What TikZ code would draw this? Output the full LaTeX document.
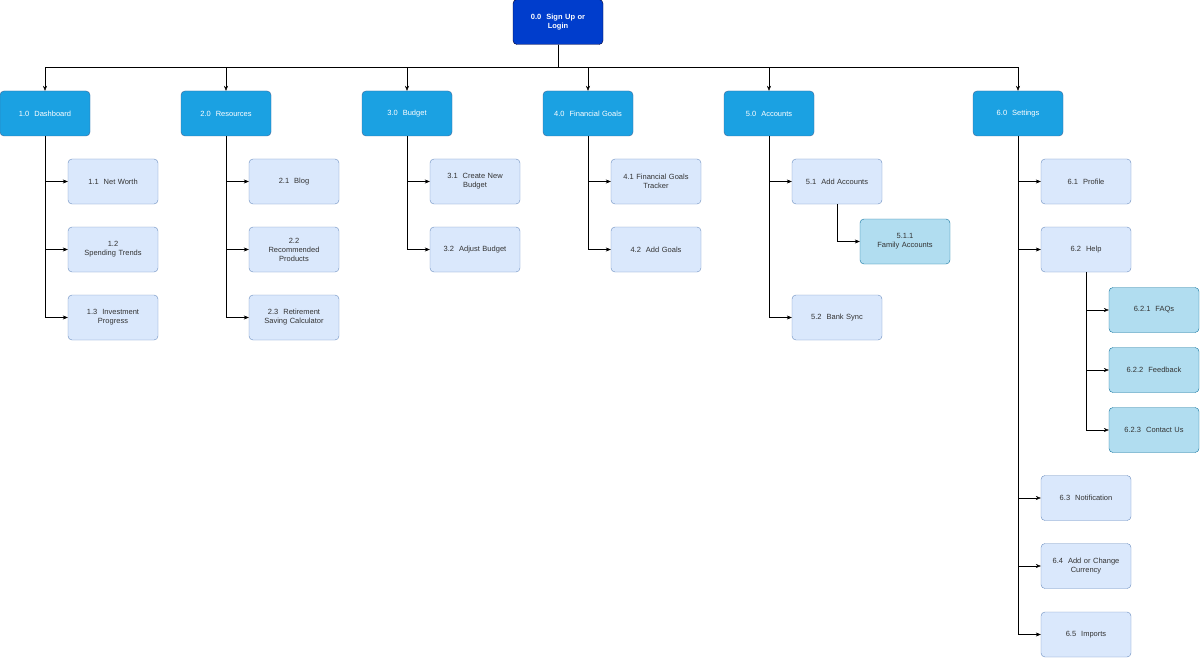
\documentclass[tikz,border=0pt]{standalone}
\usepackage{fontspec}
\setmainfont{Liberation Sans}
\usetikzlibrary{arrows.meta}
\begin{document}
\begin{tikzpicture}[x=1pt,y=-1pt,
    box/.style={rounded corners=4pt,minimum width=90pt,minimum height=45pt,text width=84pt,align=center,
        font=\fontsize{7.5}{9}\selectfont,inner sep=1pt},
    top/.style={box,draw=black!80!blue,fill=blue!70!cyan!80!black,text=white,font=\fontsize{7.5}{9}\selectfont\bfseries},
    sec/.style={box,draw=cyan!50!blue!70!black,fill={rgb,255:red,27;green,161;blue,226},text=white},
    sub/.style={box,draw={rgb,255:red,108;green,142;blue,191},fill={rgb,255:red,218;green,232;blue,252},text=black!80},
    subsub/.style={box,draw={rgb,255:red,16;green,115;blue,158},fill={rgb,255:red,177;green,221;blue,240},text=black!80},
    arr/.style={-{Stealth[length=5pt,width=4pt]},black}]
    \useasboundingbox (0,0) rectangle (1200,658);

    \node[top] (root) at (558,22) {0.0\ \ Sign Up or\\Login};

    \node[sec] (dash) at (45,113.5) {1.0\ \ Dashboard};
    \node[sec] (res) at (226,113.5) {2.0\ \ Resources};
    \node[sec] (bud) at (407,113.5) {3.0\ \ Budget};
    \node[sec] (goal) at (588,113.5) {4.0\ \ Financial Goals};
    \node[sec] (acc) at (769,113.5) {5.0\ \ Accounts};
    \node[sec] (set) at (1018,113.5) {6.0\ \ Settings};

    \node[sub] (dash1) at (113,181.5) {1.1\ \ Net Worth};
    \node[sub] (dash2) at (113,249.5) {1.2\\Spending Trends};
    \node[sub] (dash3) at (113,317.5) {1.3\ \ Investment\\Progress};

    \node[sub] (res1) at (294,181.5) {2.1\ \ Blog};
    \node[sub] (res2) at (294,249.5) {2.2\\Recommended\\Products};
    \node[sub] (res3) at (294,317.5) {2.3\ \ Retirement\\Saving Calculator};

    \node[sub] (bud1) at (475,181.5) {3.1\ \ Create New\\Budget};
    \node[sub] (bud2) at (475,249.5) {3.2\ \ Adjust Budget};

    \node[sub] (goal1) at (656,181.5) {4.1 Financial Goals\\Tracker};
    \node[sub] (goal2) at (656,249.5) {4.2\ \ Add Goals};

    \node[sub] (acc1) at (837,181.5) {5.1\ \ Add Accounts};
    \node[subsub] (acc11) at (905,241.5) {5.1.1\\Family Accounts};
    \node[sub] (acc2) at (837,317.5) {5.2\ \ Bank Sync};

    \node[sub] (set1) at (1086,181.5) {6.1\ \ Profile};
    \node[sub] (set2) at (1086,249.5) {6.2\ \ Help};
    \node[subsub] (set21) at (1154,310) {6.2.1\ \ FAQs};
    \node[subsub] (set22) at (1154,370) {6.2.2\ \ Feedback};
    \node[subsub] (set23) at (1154,430) {6.2.3\ \ Contact Us};
    \node[sub] (set3) at (1086,498) {6.3\ \ Notification};
    \node[sub] (set4) at (1086,566) {6.4\ \ Add or Change\\Currency};
    \node[sub] (set5) at (1086,634.5) {6.5\ \ Imports};

    \foreach \s in {dash,res,bud,goal,acc,set}
        \draw[arr] (root.south) -- ++(0,23) -| (\s.north);

    \foreach \p/\c in {dash/dash1,dash/dash2,dash/dash3,res/res1,res/res2,res/res3,
        bud/bud1,bud/bud2,goal/goal1,goal/goal2,acc/acc1,acc/acc2,
        set/set1,set/set2,set/set3,set/set4,set/set5,
        acc1/acc11,set2/set21,set2/set22,set2/set23}
        \draw[arr] (\p.south) |- (\c.west);
\end{tikzpicture}
\end{document}
